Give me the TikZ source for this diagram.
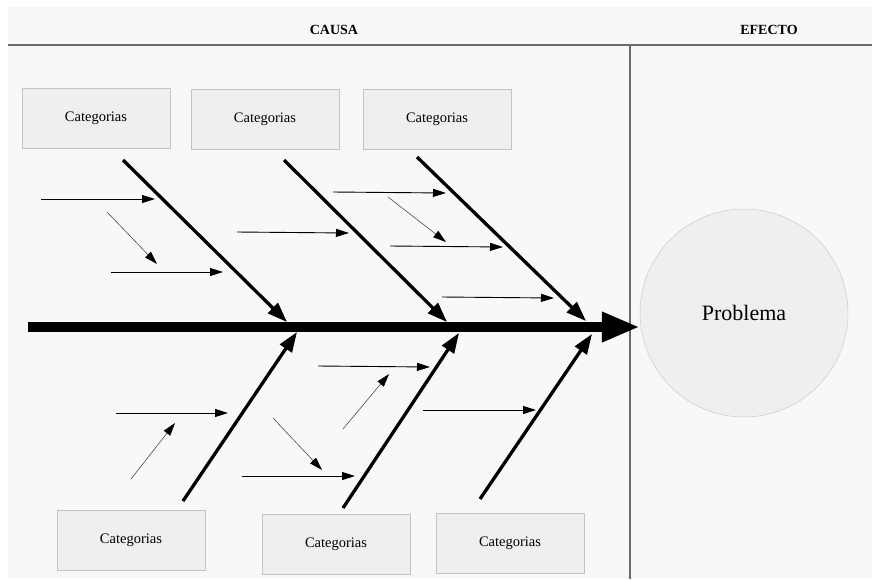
\documentclass[tikz,border=0pt]{standalone}
\usepackage{fontspec}
\setmainfont{Liberation Serif}
\usetikzlibrary{arrows.meta}
\definecolor{sheet}{HTML}{F8F8F8}
\definecolor{boxfill}{HTML}{EFEFEF}
\definecolor{boxline}{HTML}{C4C4C4}
\definecolor{rule}{HTML}{6A6A6A}

\begin{document}
\begin{tikzpicture}[
  x=1pt, y=-1pt,
  cat/.style={draw=boxline, fill=boxfill, minimum width=148pt, minimum height=60pt, font=\fontsize{14.5}{17}\selectfont},
  head/.style={font=\bfseries\fontsize{14}{16}\selectfont},
  spine/.style={line width=9.5pt, -{Triangle[length=38pt,width=28pt]}},
  bone/.style={line width=3.3pt, -{Triangle[length=20pt,width=14pt]}},
  twig/.style={line width=0.9pt, -{Triangle[length=13pt,width=8pt]}},
  slant/.style={line width=0.6pt, draw=black!70, -{Triangle[length=13pt,width=8pt,black]}}
]
\useasboundingbox (0,0) rectangle (872,579);
\fill[sheet] (8,7) rectangle (872,579);
\draw[rule, line width=1.3pt] (8,45) -- (872,45);
\draw[rule, line width=1.3pt] (630,45) -- (630,579);

\node[head] (causa) at (334,30) {CAUSA};
\node[head] (efecto) at (769,30) {EFECTO};

\node[cat] (c1) at (96,118.5) {Categorias};
\node[cat] (c2) at (265,119) {Categorias};
\node[cat] (c3) at (437,119) {Categorias};
\node[cat] (c4) at (131,540) {Categorias};
\node[cat] (c5) at (336,544) {Categorias};
\node[cat] (c6) at (510,543) {Categorias};

\node[circle, draw=boxline, fill=boxfill, minimum size=208pt, font=\fontsize{22}{25}\selectfont] (prob) at (744,313) {Problema};

\coordinate (tail) at (28,327);
\draw[spine] (tail) -- (tail -| prob.west);

\coordinate (b1) at (123,160); \coordinate (j1) at (287,322);
\coordinate (b2) at (284,160); \coordinate (j2) at (447,322);
\coordinate (b3) at (417,157); \coordinate (j3) at (586,321);
\coordinate (b4) at (183,501); \coordinate (j4) at (297,332);
\coordinate (b5) at (343,508); \coordinate (j5) at (459,333);
\coordinate (b6) at (480,499); \coordinate (j6) at (592,334);
\foreach \i in {1,...,6}
  \draw[bone] (b\i) -- (j\i);

\foreach \n/\sx/\sy/\ex/\ey in {1/41/199/155/199, 3/111/272/223/272, 4/237/232/349/233,
    5/333/192/446/193, 7/390/246/503/247, 8/442/297/554/298, 9/116/413/228/413,
    12/242/476/355/476, 13/318/366/430/367, 15/423/410/536/410}{
  \coordinate (s\n) at (\sx,\sy);
  \coordinate (e\n) at (\ex,\ey);
  \draw[twig] (s\n) -- (e\n);
}
\foreach \n/\sx/\sy/\ex/\ey in {2/107/212/157/264, 6/388/197/446/242,
    10/131/479/175/423, 11/273/418/322/470, 14/343/429/389/374}{
  \coordinate (s\n) at (\sx,\sy);
  \coordinate (e\n) at (\ex,\ey);
  \draw[slant] (s\n) -- (e\n);
}
\end{tikzpicture}
\end{document}
